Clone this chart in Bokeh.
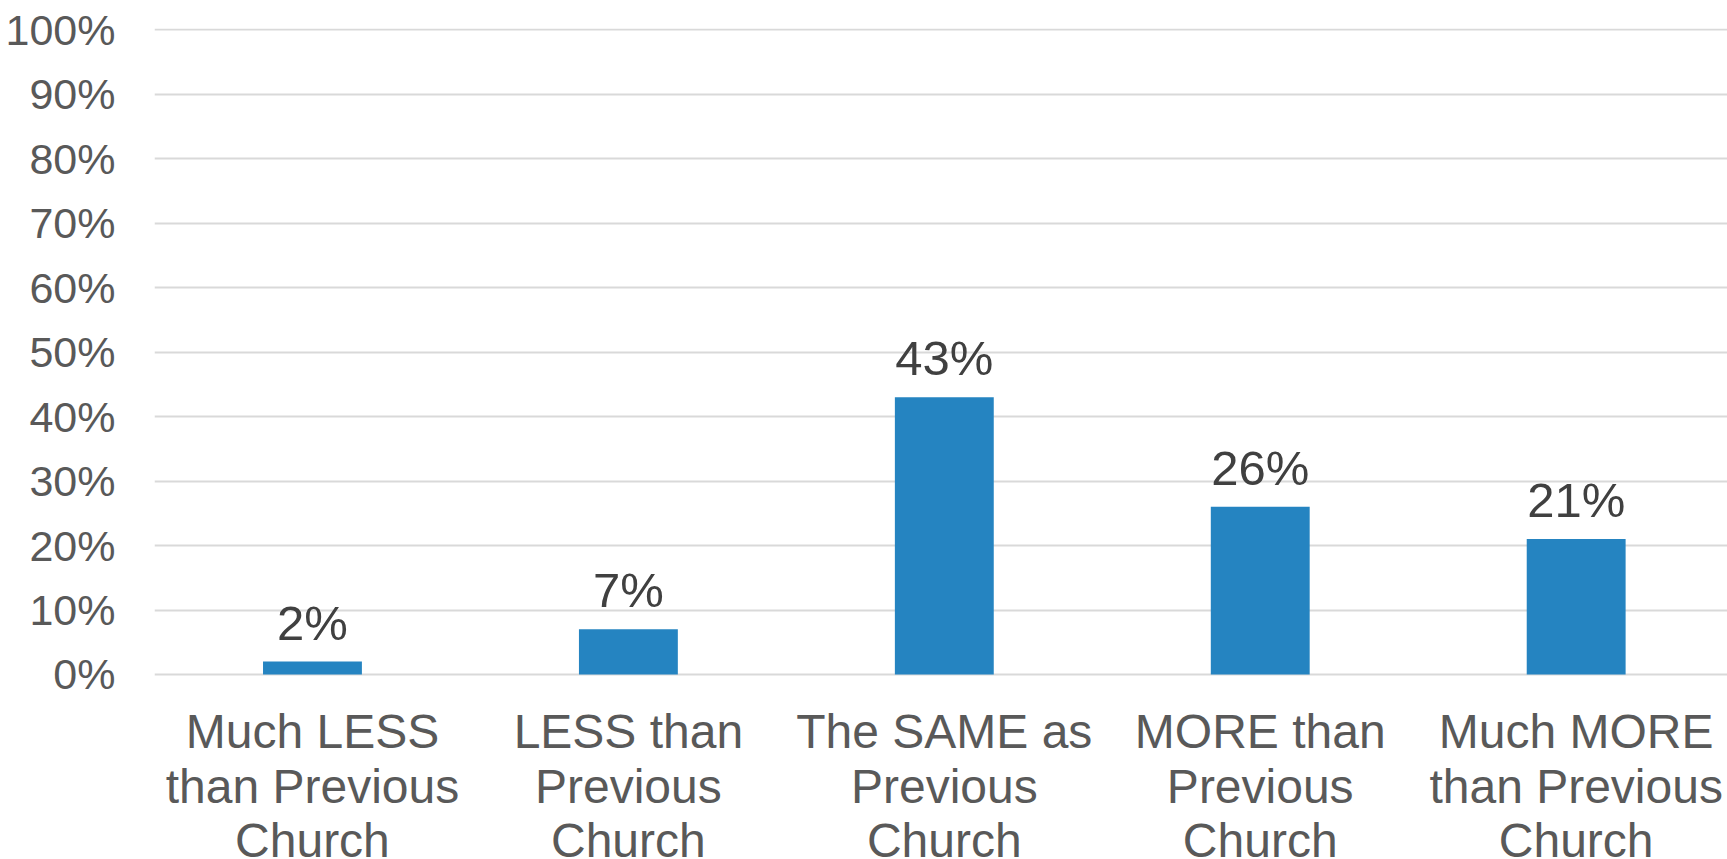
from bokeh.plotting import figure
from bokeh.models import Range1d, FixedTicker, PrintfTickFormatter, ColumnDataSource
from bokeh.core.properties import value
from bokeh.embed import file_html
from bokeh.resources import INLINE

categories = [
    "Much LESS\nthan Previous\nChurch",
    "LESS than\nPrevious\nChurch",
    "The SAME as\nPrevious\nChurch",
    "MORE than\nPrevious\nChurch",
    "Much MORE\nthan Previous\nChurch",
]
values = [2, 7, 43, 26, 21]
value_labels = ["2%", "7%", "43%", "26%", "21%"]
y_ticks = [0, 10, 20, 30, 40, 50, 60, 70, 80, 90, 100]

FONT = "Liberation Sans"
xs = list(range(len(categories)))

p = figure(
    width=1727, height=859,
    output_backend="svg", toolbar_location=None,
    x_range=Range1d(-0.5, 4.479), y_range=Range1d(-28.7, 100.2),
    min_border_left=154, min_border_right=0, min_border_top=28, min_border_bottom=0,
)
p.outline_line_color = None
p.background_fill_color = "white"
p.border_fill_color = "white"

src = ColumnDataSource(dict(x=xs, top=values, label=value_labels,
                            base=[0] * len(xs), cat=categories))
p.vbar(x="x", top="top", bottom=0, width=0.313, source=src,
       fill_color="#2584C1", line_color=None)
p.text(x="x", y="top", text="label", source=src, y_offset=-39,
       text_align="center", text_baseline="alphabetic",
       text_font=value(FONT), text_font_size="49px", text_color="#404040")

# category labels under the bars (at the 0 baseline)
p.text(x="x", y="base", text="cat", source=src, y_offset=31,
       text_align="center", text_baseline="top", text_line_height=1.025,
       text_font=value(FONT), text_font_size="48px", text_color="#595959")

# y axis
p.yaxis.ticker = FixedTicker(ticks=y_ticks)
p.yaxis.formatter = PrintfTickFormatter(format="%d%%")
p.yaxis.axis_line_color = None
p.yaxis.major_tick_line_color = None
p.yaxis.minor_tick_line_color = None
p.yaxis.major_label_standoff = 33
p.yaxis.major_label_text_font = FONT
p.yaxis.major_label_text_font_size = "43px"
p.yaxis.major_label_text_color = "#595959"

p.xaxis.visible = False
p.xgrid.grid_line_color = None
p.ygrid.ticker = FixedTicker(ticks=y_ticks)
p.ygrid.grid_line_color = "#D9D9D9"
p.ygrid.grid_line_width = 2

open("out.html", "w").write(file_html(p, INLINE))
